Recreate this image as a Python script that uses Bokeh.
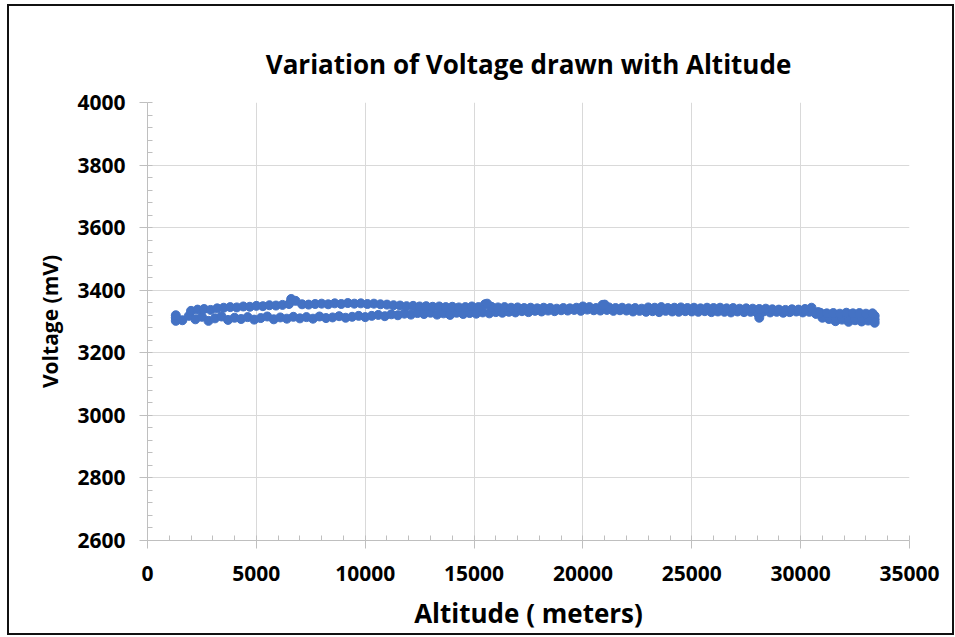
from bokeh.plotting import figure
from bokeh.models import Range1d, SingleIntervalTicker
from bokeh.embed import file_html
from bokeh.resources import INLINE

# ---- data ----
lower_alt = [1300, 1600, 1900, 2200, 2500, 2800, 3100, 3400, 3700, 4000,
             4300, 4600, 4900, 5200, 5500, 5800, 6100, 6400, 6700, 7000,
             7300, 7600, 7900, 8200, 8500, 8800, 9100, 9400, 9700, 10000,
             10300, 10600, 10900, 11200, 11500, 11800, 12100, 12400, 12700, 13000,
             13300, 13600, 13900, 14200, 14500, 14800, 15100, 15400, 15700, 16000,
             16300, 16600, 16900, 17200, 17500, 17800, 18100, 18400, 18700, 19000,
             19300, 19600, 19900, 20200, 20500, 20800, 21100, 21400, 21700, 22000,
             22300, 22600, 22900, 23200, 23500, 23800, 24100, 24400, 24700, 25000,
             25300, 25600, 25900, 26200, 26500, 26800, 27100, 27400, 27700, 28000,
             28300, 28600, 28900, 29200, 29500, 29800, 30100, 30400, 30700, 31000,
             31300, 31600, 31900, 32200, 32500, 32800, 33100, 33400]
lower_mv = [3312, 3304, 3318, 3307, 3315, 3302, 3310, 3316, 3305, 3312,
            3308, 3314, 3306, 3311, 3316, 3307, 3313, 3309, 3315, 3310,
            3314, 3309, 3316, 3311, 3313, 3317, 3312, 3315, 3318, 3314,
            3318, 3321, 3317, 3323, 3320, 3325, 3322, 3327, 3324, 3328,
            3322, 3326, 3321, 3328, 3324, 3327, 3325, 3329, 3326, 3330,
            3328, 3331, 3329, 3333, 3330, 3334, 3332, 3335, 3333, 3336,
            3335, 3337, 3334, 3338, 3336, 3335, 3337, 3334, 3336, 3335,
            3332, 3334, 3331, 3333, 3330, 3334, 3332, 3331, 3333, 3332,
            3331, 3333, 3330, 3332, 3331, 3329, 3332, 3330, 3331, 3328,
            3332, 3329, 3331, 3328, 3330, 3332, 3329, 3331, 3325, 3316,
            3308, 3301, 3306, 3299, 3304, 3300, 3303, 3306]

upper_alt = [2000, 2300, 2600, 2900, 3200, 3500, 3800, 4100, 4400, 4700,
             5000, 5300, 5600, 5900, 6200, 6500, 6800, 7100, 7400, 7700,
             8000, 8300, 8600, 8900, 9200, 9500, 9800, 10100, 10400, 10700,
             11000, 11300, 11600, 11900, 12200, 12500, 12800, 13100, 13400, 13700,
             14000, 14300, 14600, 14900, 15200, 15500, 15800, 16100, 16400, 16700,
             17000, 17300, 17600, 17900, 18200, 18500, 18800, 19100, 19400, 19700,
             20000, 20300, 20600, 20900, 21200, 21500, 21800, 22100, 22400, 22700,
             23000, 23300, 23600, 23900, 24200, 24500, 24800, 25100, 25400, 25700,
             26000, 26300, 26600, 26900, 27200, 27500, 27800, 28100, 28400, 28700,
             29000, 29300, 29600, 29900, 30200, 30500, 30800, 31100, 31400, 31700,
             32000, 32300, 32600, 32900, 33200]
upper_mv = [3334, 3338, 3340, 3337, 3342, 3344, 3346, 3345, 3348, 3347,
            3350, 3349, 3352, 3351, 3353, 3356, 3366, 3355, 3354, 3356,
            3357, 3355, 3358, 3356, 3359, 3357, 3358, 3356, 3357, 3355,
            3354, 3352, 3351, 3349, 3350, 3348, 3349, 3347, 3348, 3346,
            3347, 3345, 3346, 3348, 3346, 3355, 3347, 3345, 3346, 3344,
            3345, 3343, 3344, 3342, 3344, 3343, 3341, 3343, 3342, 3344,
            3348, 3346, 3343, 3353, 3345, 3343, 3344, 3342, 3343, 3341,
            3345, 3344, 3346, 3343, 3344, 3345, 3343, 3344, 3342, 3344,
            3343, 3344, 3342, 3343, 3341, 3342, 3341, 3340, 3341, 3339,
            3338, 3337, 3339, 3338, 3340, 3344, 3330, 3322, 3320, 3318,
            3322, 3319, 3321, 3318, 3320]

extra_alt = [30700, 31000, 31300, 31600, 31900, 32200, 32500, 32800, 33100, 33400,
             30900, 31200, 31500, 31800, 32100, 32400, 32700, 33000, 33300,
             33400, 28100, 6600, 15600, 21000, 1300, 1300]
extra_mv = [3325, 3312, 3314, 3310, 3313, 3309, 3312, 3310, 3313, 3318,
            3328, 3326, 3327, 3325, 3328, 3326, 3327, 3325, 3326,
            3296, 3312, 3372, 3357, 3354, 3302, 3320]

x_ticks_step = 5000
y_ticks_step = 200

FONT = "Open Sans"
BLUE = "#4472C4"

p = figure(width=947, height=631, output_backend="svg", toolbar_location=None,
           x_range=Range1d(0, 35000), y_range=Range1d(2600, 4000),
           min_border_left=138, min_border_right=47, min_border_top=96, min_border_bottom=97,
           title="Variation of Voltage drawn with Altitude")
p.styles = {"border": "2px solid #111111", "margin-left": "7px", "margin-top": "4px"}
p.outline_line_color = None

p.title.align = "center"
p.title.text_font = FONT
p.title.text_font_style = "bold"
p.title.text_font_size = "26px"
p.title.text_color = "#000000"
p.title.standoff = 42

for s_alt, s_mv in ((lower_alt, lower_mv), (upper_alt, upper_mv), (extra_alt, extra_mv)):
    p.scatter(s_alt, s_mv, size=9, fill_color=BLUE, line_color=BLUE)

p.xaxis.ticker = SingleIntervalTicker(interval=x_ticks_step, num_minor_ticks=5)
p.yaxis.ticker = SingleIntervalTicker(interval=y_ticks_step, num_minor_ticks=5)
p.xgrid.ticker = p.xaxis.ticker
p.ygrid.ticker = p.yaxis.ticker

for ax in (p.xaxis[0], p.yaxis[0]):
    ax.axis_line_color = "#bfbfbf"
    ax.major_tick_line_color = "#bfbfbf"
    ax.minor_tick_line_color = "#bfbfbf"
    ax.major_tick_in = 0
    ax.major_tick_out = 8
    ax.minor_tick_in = 5
    ax.minor_tick_out = 0
    ax.major_label_text_font = FONT
    ax.major_label_text_font_style = "bold"
    ax.major_label_text_font_size = "21px"
    ax.major_label_text_color = "#000000"
    ax.axis_label_text_font = FONT
    ax.axis_label_text_font_style = "bold"
    ax.axis_label_text_color = "#000000"

p.xaxis.axis_label = "Altitude ( meters)"
p.xaxis.axis_label_text_font_size = "26px"
p.xaxis.major_label_standoff = 17
p.xaxis.axis_label_standoff = 11
p.yaxis.axis_label = "Voltage (mV)"
p.yaxis.axis_label_text_font_size = "21px"
p.yaxis.major_label_standoff = 14
p.yaxis.axis_label_standoff = 10

p.xgrid.grid_line_color = "#d9d9d9"
p.ygrid.grid_line_color = "#d9d9d9"

open("out.html", "w").write(file_html(p, INLINE))
